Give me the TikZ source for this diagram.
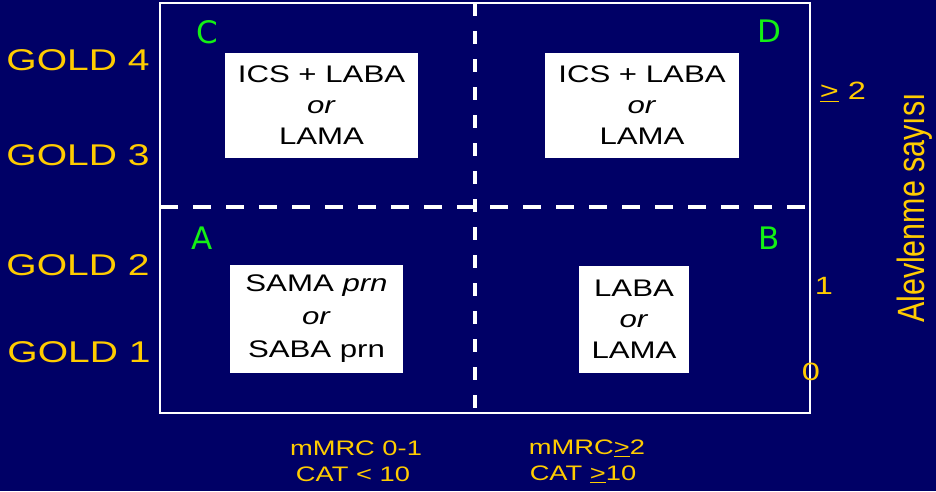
\documentclass[tikz,border=0pt]{standalone}
\usepackage{fontspec}
\setmainfont{Liberation Sans}[FakeStretch=1.3]
\newfontfamily\vfont{Liberation Sans}[FakeStretch=0.8]
\newfontfamily\gfont{DejaVu Sans}
\definecolor{navy}{RGB}{0,0,102}
\definecolor{goldy}{RGB}{255,204,0}
\definecolor{grn}{RGB}{20,240,20}
\begin{document}
\begin{tikzpicture}[x=1pt,y=-1pt,
  treat/.style={fill=white,text=black,inner sep=0pt,align=center,
    font=\fontsize{24}{31}\selectfont},
  goldlbl/.style={text=goldy,inner sep=0pt,font=\fontsize{30}{36}\selectfont},
  axlbl/.style={text=goldy,inner sep=0pt,font=\fontsize{21}{26}\selectfont},
  numlbl/.style={text=goldy,inner sep=0pt,font=\fontsize{25}{30}\selectfont},
  quad/.style={text=grn,inner sep=0pt,font=\gfont\fontsize{31}{36}\selectfont},
  border/.style={draw=white,line width=2pt},
  divider/.style={draw=white,line width=3.5pt}]
\fill[navy] (0,0) rectangle (936,491);
\useasboundingbox (0,0) rectangle (936,491);
% frame and dividers
\draw[border] (160,3) rectangle (810,413);
\coordinate (vtop) at (475,3);
\coordinate (vbot) at (475,413);
\coordinate (hleft) at (160,207);
\coordinate (hright) at (806,207);
\draw[divider,dash pattern=on 13pt off 15pt] (vtop) -- (vbot);
\draw[divider,dash pattern=on 18pt off 15pt] (hleft) -- (hright);
% treatment boxes
\node[treat,minimum width=193pt,minimum height=105pt] (C) at (321.5,105.5)
  {ICS + LABA\\\textit{or}\\LAMA};
\node[treat,minimum width=194pt,minimum height=105pt] (D) at (642,105.5)
  {ICS + LABA\\\textit{or}\\LAMA};
\node[treat,minimum width=173pt,minimum height=108pt,font=\fontsize{24}{33}\selectfont] (A) at (316.5,319)
  {SAMA \textit{prn}\\\textit{or}\\SABA prn};
\node[treat,minimum width=110pt,minimum height=107pt] (B) at (634,319.5)
  {LABA\\\textit{or}\\LAMA};
% quadrant letters
\node[quad] (qC) at (207,32) {C};
\node[quad] (qD) at (769,31) {D};
\node[quad] (qA) at (202,238) {A};
\node[quad] (qB) at (769,238) {B};
% GOLD labels
\node[goldlbl] (g4) at (78,60) {GOLD 4};
\node[goldlbl] (g3) at (78,155) {GOLD 3};
\node[goldlbl] (g2) at (78,265) {GOLD 2};
\node[goldlbl] (g1) at (79,352) {GOLD 1};
% right axis
\node[numlbl] (n2) at (843,92) {\underline{>} 2};
\node[numlbl] (n1) at (824,286) {1};
\node[numlbl] (n0) at (811,372) {0};
\node[text=goldy,inner sep=0pt,rotate=90,anchor=base,font=\vfont\fontsize{38}{44}\selectfont]
  (ax) at (924,208) {Alevlenme sayısı};
% bottom axis
\node[axlbl] (m1) at (356,448) {mMRC 0-1};
\node[axlbl] (c1) at (353,474) {CAT < 10};
\node[axlbl] (m2) at (587,448) {mMRC\underline{>}2};
\node[axlbl] (c2) at (583,474) {CAT \underline{>}10};
\end{tikzpicture}
\end{document}
